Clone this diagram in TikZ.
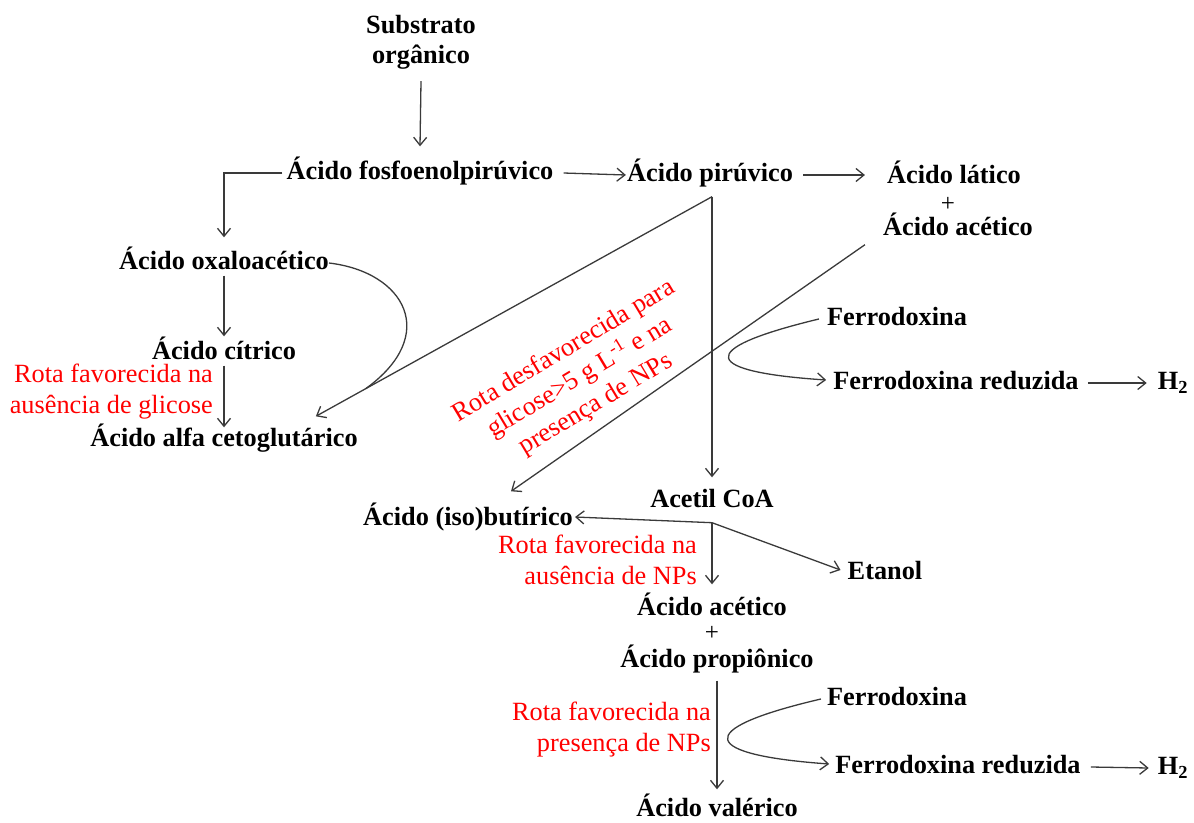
\documentclass[tikz,border=0pt]{standalone}
\usepackage{fontspec}
\setmainfont{Liberation Serif}
\usetikzlibrary{arrows.meta,calc}
\definecolor{ink}{HTML}{3A3A3A}
\definecolor{note}{HTML}{FF0000}

\begin{document}
\begin{tikzpicture}[x=1pt,y=-1pt,
  lbl/.style={font=\fontsize{26.3}{30}\selectfont\bfseries, inner sep=0pt, text height=19pt, text depth=6pt},
  lbltwo/.style={font=\fontsize{26.3}{30}\selectfont\bfseries, inner sep=0pt, align=center},
  plussign/.style={font=\fontsize{25}{28}\selectfont, inner sep=0pt},
  notetext/.style={font=\fontsize{26.3}{31}\selectfont, text=note, inner sep=0pt},
  arr/.style={draw=ink, line width=1.3pt, -{Straight Barb[length=8pt,width=13pt,line width=1.3pt]}},
  ln/.style={draw=ink, line width=1.3pt}]
\useasboundingbox (0,0) rectangle (1194,822);

% metabolites
\node[lbltwo] (sub) at (421,42) {Substrato\\orgânico};
\node[lbl] (pep) at (420,173) {Ácido fosfoenolpirúvico};
\node[lbl] (pir) at (710,175) {Ácido pirúvico};
\node[lbl] (lat) at (954,177) {Ácido lático};
\node[plussign] (plusa) at (948,204) {+};
\node[lbl] (acea) at (958,229) {Ácido acético};
\node[lbl] (oxa) at (224,263) {Ácido oxaloacético};
\node[lbl] (cit) at (224,353) {Ácido cítrico};
\node[lbl] (akg) at (224,440) {Ácido alfa cetoglutárico};
\node[lbl] (fda) at (897,319) {Ferrodoxina};
\node[lbl] (fdra) at (956,383) {Ferrodoxina reduzida};
\node[lbl] (hyda) at (1173,383) {H\textsubscript{2}};
\node[lbl] (acc) at (712,501) {Acetil CoA};
\node[lbl] (but) at (468,519) {Ácido (iso)butírico};
\node[lbl] (eta) at (885,573) {Etanol};
\node[lbl] (aceb) at (712,609) {Ácido acético};
\node[plussign] (plusb) at (712,633) {+};
\node[lbl] (pro) at (717,661) {Ácido propiônico};
\node[lbl] (fdb) at (897,699) {Ferrodoxina};
\node[lbl] (fdrb) at (958,767) {Ferrodoxina reduzida};
\node[lbl] (hydb) at (1173,768) {H\textsubscript{2}};
\node[lbl] (val) at (717,810) {Ácido valérico};

% conditions
\node[notetext, align=right, anchor=east] (nglc) at (213,392) {Rota favorecida na\\ausência de glicose};
\node[notetext, align=right, anchor=east] (nnp) at (697,560) {Rota favorecida na\\ausência de NPs};
\node[notetext, align=right, anchor=east] (pnp) at (711,730) {Rota favorecida na\\presença de NPs};
\node[notetext, align=center, rotate=31] (dglc) at (580,378) {Rota desfavorecida para\\glicose>5 g L\textsuperscript{-1} e na\\presença de NPs};

% main chain
\draw[arr] ([yshift=-12pt]sub.south) -- ([yshift=14pt]pep.north);
\draw[arr] ([xshift=-4pt]pep.west) -| ([yshift=13pt]oxa.north);
\draw[arr] ([xshift=10pt]pep.east) -- ([xshift=-1pt]pir.west);
\draw[arr] ([xshift=10pt]pir.east) -- ([xshift=-22pt,yshift=2pt]lat.west);
\draw[arr] (oxa.south) -- ([yshift=4pt]cit.north);
\draw[arr] (cit.south) -- (akg.north);

% branches from pyruvate
\coordinate (apex) at ([xshift=2pt,yshift=-9pt]pir.south);
\coordinate (akgtip) at ([xshift=-42pt,yshift=11pt]akg.north east);
\draw[arr] (apex) -- (akgtip);
\draw[arr] (apex) -- ([yshift=11pt]acc.north);
\coordinate (join) at ($(apex)!0.874!(akgtip)$);
\draw[ln] (oxa.east) .. controls (405,272) and (440,335) .. (join);
\draw[arr] ([xshift=-18pt,yshift=-3pt]acea.south west) -- ([xshift=43pt,yshift=15pt]but.north);

% ferredoxin loops
\draw[arr] ([xshift=-8pt]fda.west) .. controls (690,350) and (705,372) .. ([xshift=-7pt,yshift=3pt]fdra.west);
\draw[arr] ([xshift=9pt]fdra.east) -- ([xshift=-11pt]hyda.west);
\draw[arr] ([xshift=-6pt]fdb.west) .. controls (688,730) and (703,755) .. ([xshift=-6pt,yshift=3pt]fdrb.west);
\draw[arr] ([xshift=10pt]fdrb.east) -- ([xshift=-9pt]hydb.west);

% acetyl-CoA branches
\coordinate (br) at ([yshift=-9pt]acc.south);
\draw[arr] (br) -- ([xshift=2pt,yshift=2pt]but.east);
\draw[arr] (br) -- ([xshift=-7pt,yshift=3pt]eta.west);
\draw[arr] (br) -- ([yshift=12pt]aceb.north);
\draw[arr] ([yshift=-7pt]pro.south) -- ([yshift=8pt]val.north);
\end{tikzpicture}
\end{document}
